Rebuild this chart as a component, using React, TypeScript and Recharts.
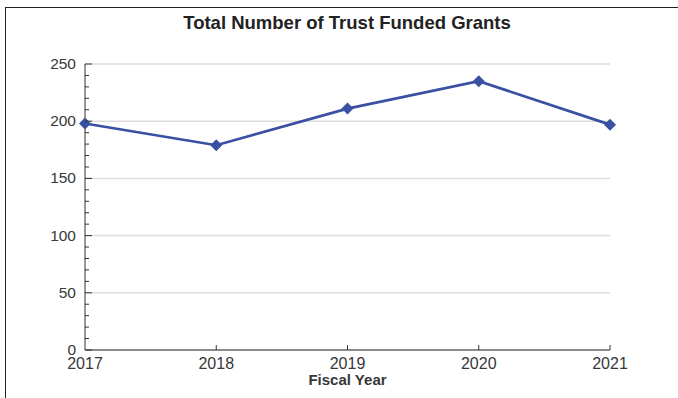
import { LineChart, Line, XAxis, YAxis, CartesianGrid } from 'recharts';

const years = [2017, 2018, 2019, 2020, 2021];
const grants = [198, 179, 211, 235, 197];
const majorTicks = [0, 50, 100, 150, 200, 250];
const allYTicks = [0, 10, 20, 30, 40, 50, 60, 70, 80, 90, 100, 110, 120, 130, 140, 150, 160, 170, 180, 190, 200, 210, 220, 230, 240, 250];

const data = years.map((year, i) => ({ year, grants: grants[i] }));

const LINE = '#3A50A2';
const TEXT = '#383838';
const FONT = '"Liberation Sans", Arial, sans-serif';

function YTick({ x, y, payload }: any) {
  const major = majorTicks.includes(payload.value);
  return (
    <g>
      <line x1={x} x2={x + (major ? 7 : 4)} y1={y} y2={y} stroke="#333" strokeWidth={1} />
      {major && (
        <text x={x - 9} y={y + 5} textAnchor="end" fontSize={15.5} fill={TEXT} fontFamily={FONT}>
          {payload.value}
        </text>
      )}
    </g>
  );
}

function XTick({ x, y, payload, index }: any) {
  return (
    <g>
      {index > 0 && <line x1={x} x2={x} y1={y} y2={y - 5} stroke="#333" strokeWidth={1} />}
      <text x={x} y={y + 19} textAnchor="middle" fontSize={16} fill={TEXT} fontFamily={FONT}>
        {payload.value}
      </text>
    </g>
  );
}

function Diamond({ cx, cy, index }: any) {
  const r = 6;
  return <path key={index} d={`M${cx},${cy - r} L${cx + r},${cy} L${cx},${cy + r} L${cx - r},${cy} Z`} fill={LINE} />;
}

export default function App() {
  return (
    <div style={{ position: 'absolute', left: 0, top: 0, width: 678, height: 398, background: '#fff', fontFamily: FONT }}>
      <div style={{ position: 'absolute', left: 5, top: 7, width: 680, height: 400, borderTop: '1.5px solid #222', borderLeft: '1.5px solid #222' }} />
      <div style={{ position: 'absolute', left: 84, top: 12, width: 526, textAlign: 'center', fontSize: 18.5, fontWeight: 'bold', color: '#222' }}>
        Total Number of Trust Funded Grants
      </div>
      <LineChart width={678} height={398} data={data} margin={{ top: 64, right: 68, left: 25, bottom: 18 }} style={{ position: 'absolute', left: 0, top: 0 }}>
        <CartesianGrid vertical={false} horizontalValues={majorTicks} stroke="#ddd" strokeWidth={1.5} />
        <XAxis
          dataKey="year"
          type="number"
          domain={[2017, 2021]}
          ticks={years}
          interval={0}
          tickSize={0}
          tickMargin={0}
          height={30}
          stroke="#333"
          tick={<XTick />}
          label={{
            content: ({ viewBox }: any) => (
              <text x={viewBox.x + viewBox.width / 2} y={viewBox.y + 35} textAnchor="middle" fontSize={15} fontWeight="bold" fill={TEXT} fontFamily={FONT}>
                Fiscal Year
              </text>
            ),
          }}
        />
        <YAxis
          domain={[0, 250]}
          ticks={allYTicks}
          interval={0}
          tickSize={0}
          tickMargin={0}
          width={60}
          stroke="#333"
          tick={<YTick />}
        />
        <Line dataKey="grants" stroke={LINE} strokeWidth={2.7} dot={<Diamond />} activeDot={false} isAnimationActive={false} />
      </LineChart>
    </div>
  );
}
